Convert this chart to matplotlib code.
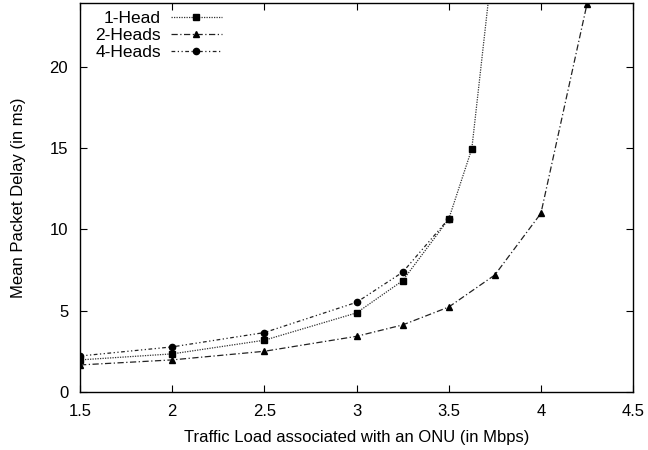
import matplotlib
matplotlib.use("Agg")
import matplotlib.pyplot as plt

plt.rcParams['font.family'] = ['Liberation Sans', 'DejaVu Sans']

x_1head = [1.5, 2.0, 2.5, 3.0, 3.25, 3.5, 3.625, 3.75]
y_1head = [1.97, 2.34, 3.18, 4.86, 6.84, 10.63, 14.94, 27.6]

x_2heads = [1.5, 2.0, 2.5, 3.0, 3.25, 3.5, 3.75, 4.0, 4.25]
y_2heads = [1.66, 1.97, 2.5, 3.42, 4.12, 5.22, 7.19, 10.98, 23.85]

x_4heads = [1.5, 2.0, 2.5, 3.0, 3.25, 3.5]
y_4heads = [2.21, 2.77, 3.65, 5.51, 7.36, 10.65]

xticks = [1.5, 2, 2.5, 3, 3.5, 4, 4.5]
xticklabels = ['1.5', '2', '2.5', '3', '3.5', '4', '4.5']
yticks = [0, 5, 10, 15, 20]

fig = plt.figure(figsize=(6.48, 4.5), dpi=100)
ax = fig.add_axes([0.1235, 0.129, 0.8535, 0.864])

ax.plot(x_1head, y_1head, color='#333333', lw=0.9, dashes=(1, 1),
        marker='s', ms=5, mfc='black', mec='black', label='1-Head')
ax.plot(x_2heads, y_2heads, color='#222222', lw=0.9, dashes=(5, 2, 1, 2),
        marker='^', ms=4, mfc='black', mec='black', label='2-Heads')
ax.plot(x_4heads, y_4heads, color='#222222', lw=0.9, dashes=(3, 2, 1, 2, 1, 2),
        marker='o', ms=4.5, mfc='black', mec='black', label='4-Heads')

ax.set_xlim(1.5, 4.5)
ax.set_ylim(0, 23.9)
ax.set_xticks(xticks)
ax.set_xticklabels(xticklabels)
ax.set_yticks(yticks)
ax.tick_params(direction='in', top=True, right=True, labelsize=12, length=5, width=0.8)
ax.tick_params(axis='x', pad=9)
ax.tick_params(axis='y', pad=8.5)
for s in ax.spines.values():
    s.set_linewidth(1.0)

ax.set_xlabel('Traffic Load associated with an ONU (in Mbps)', fontsize=12)
ax.set_ylabel('Mean Packet Delay (in ms)', fontsize=12)
ax.xaxis.set_label_coords(0.5, -0.097)
ax.yaxis.set_label_coords(-0.098, 0.5)

leg = ax.legend(loc='upper right', bbox_to_anchor=(0.27, 1.0), frameon=False,
                markerfirst=False, fontsize=12.5, handlelength=2.9, handletextpad=0.6,
                labelspacing=0.1, borderpad=0.45, borderaxespad=0.0)

fig.savefig('out.png', dpi=100)
